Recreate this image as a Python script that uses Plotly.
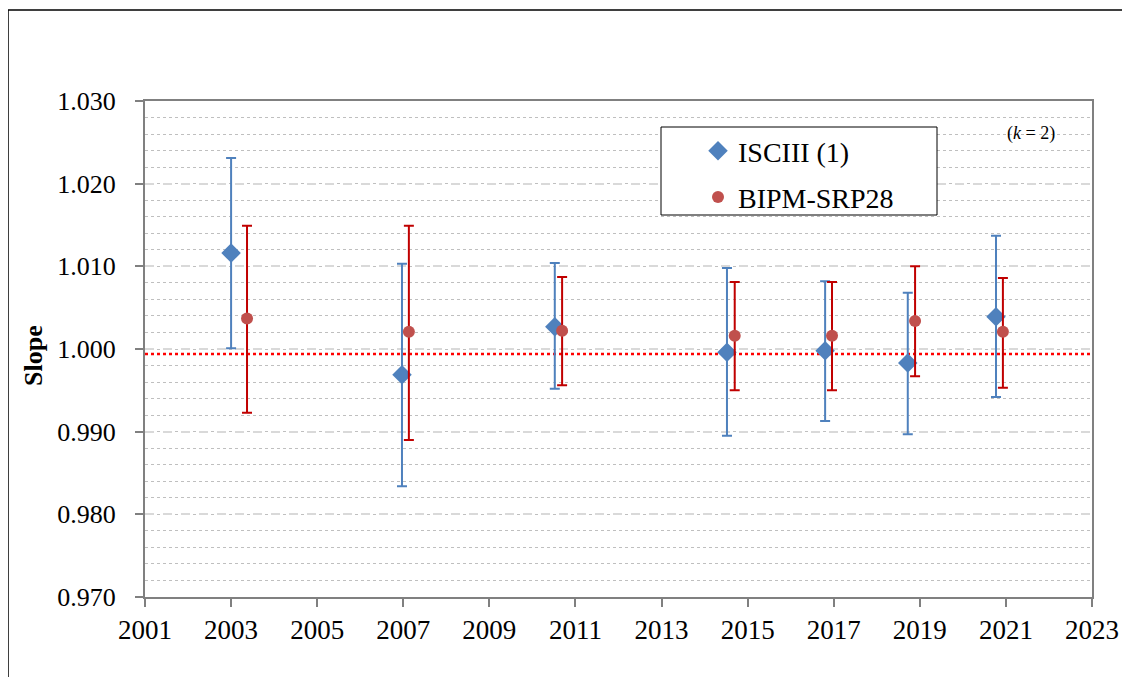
import plotly.graph_objects as go

# ISCIII (1)
isc_year = [2003.0, 2006.97, 2010.52, 2014.52, 2016.8, 2018.72, 2020.77]
isc_slope = [1.0116, 0.9969, 1.0027, 0.9996, 0.9998, 0.9983, 1.0039]
isc_upper = [1.0231, 1.0103, 1.0104, 1.0098, 1.0082, 1.0068, 1.0137]
isc_lower = [1.0001, 0.9834, 0.9952, 0.9895, 0.9913, 0.9897, 0.9942]

# BIPM-SRP28
bipm_year = [2003.37, 2007.13, 2010.69, 2014.7, 2016.96, 2018.89, 2020.93]
bipm_slope = [1.0037, 1.0021, 1.0022, 1.0016, 1.0016, 1.0034, 1.0021]
bipm_upper = [1.0149, 1.0149, 1.0087, 1.0081, 1.0081, 1.0100, 1.0086]
bipm_lower = [0.9923, 0.9890, 0.9956, 0.9950, 0.9950, 0.9967, 0.9953]

ref_line = 0.9994
x_ticks = list(range(2001, 2024, 2))
y_ticks = [0.970, 0.980, 0.990, 1.000, 1.010, 1.020, 1.030]

FONT = "Liberation Serif"

# page-pixel helpers (plot area spans x 145..1092, y 101..597 on the page)
def px(x):
    return (x - 145) / 947

def py(y):
    return (597 - y) / 496

fig = go.Figure()

fig.add_trace(go.Scatter(
    x=isc_year, y=isc_slope, mode="markers", name="ISCIII (1)",
    legendgroup="a",
    marker=dict(symbol="diamond", size=15, color="#4F81BD"),
    error_y=dict(type="data", symmetric=False,
                 array=[u - s for u, s in zip(isc_upper, isc_slope)],
                 arrayminus=[s - l for s, l in zip(isc_slope, isc_lower)],
                 color="#4F81BD", thickness=2, width=5),
))
fig.add_trace(go.Scatter(
    x=bipm_year, y=bipm_slope, mode="markers", name="BIPM-SRP28",
    legendgroup="b",
    marker=dict(symbol="circle", size=12, color="#C0504D"),
    error_y=dict(type="data", symmetric=False,
                 array=[u - s for u, s in zip(bipm_upper, bipm_slope)],
                 arrayminus=[s - l for s, l in zip(bipm_slope, bipm_lower)],
                 color="#C00000", thickness=2, width=5),
))

fig.add_shape(type="line", xref="paper", yref="y", x0=0, x1=1,
              y0=ref_line, y1=ref_line,
              line=dict(color="#FF0000", width=2.5, dash="dot"), layer="below")

# legend frame
fig.add_shape(type="rect", xref="paper", yref="paper",
              x0=px(661), x1=px(937), y0=py(215), y1=py(127),
              line=dict(color="black", width=1), fillcolor="white", layer="above")

# outer border
fig.add_shape(type="rect", xref="paper", yref="paper",
              x0=px(8), x1=px(1150), y0=py(700), y1=py(10),
              line=dict(color="black", width=1.5), fillcolor="rgba(0,0,0,0)")

fig.add_annotation(text="(<i>k</i> = 2)", xref="paper", yref="paper",
                   x=px(1031), y=py(133), xanchor="center", yanchor="middle",
                   showarrow=False, font=dict(family=FONT, size=18, color="black"))

fig.add_annotation(text="<b>Slope</b>", xref="paper", yref="paper",
                   x=px(33), y=py(356), textangle=-90, xanchor="center", yanchor="middle",
                   showarrow=False, font=dict(family=FONT, size=26, color="black"))

fig.update_layout(
    width=1122, height=669,
    margin=dict(l=137, r=38, t=93, b=80),
    paper_bgcolor="white", plot_bgcolor="white",
    font=dict(family=FONT, color="black"),
    showlegend=True,
    legend=dict(x=px(698), y=py(126), xanchor="left", yanchor="top",
                bgcolor="rgba(0,0,0,0)", borderwidth=0,
                font=dict(family=FONT, size=28, color="black"),
                traceorder="grouped", tracegroupgap=7),
    xaxis=dict(range=[2001, 2023], tickvals=x_ticks, ticktext=[str(t) for t in x_ticks],
               showgrid=False, zeroline=False,
               showline=True, linecolor="#808080", linewidth=2, mirror=True,
               ticks="outside", ticklen=8, tickcolor="#808080", tickwidth=1.5,
               tickfont=dict(family=FONT, size=27, color="black")),
    yaxis=dict(range=[0.970, 1.030], tickvals=y_ticks,
               ticktext=[f"{t:.3f}" for t in y_ticks],
               showgrid=True, gridcolor="#D9D9D9", griddash="dash", gridwidth=1.5,
               zeroline=False,
               showline=True, linecolor="#808080", linewidth=2, mirror=True,
               ticks="outside", ticklen=8, tickcolor="#808080", tickwidth=1.5,
               ticklabelstandoff=14,
               tickfont=dict(family=FONT, size=26, color="black"),
               minor=dict(dtick=0.002, showgrid=True, gridcolor="#BFBFBF",
                          griddash="dot", gridwidth=1)),
)

fig.write_html("out.html")
